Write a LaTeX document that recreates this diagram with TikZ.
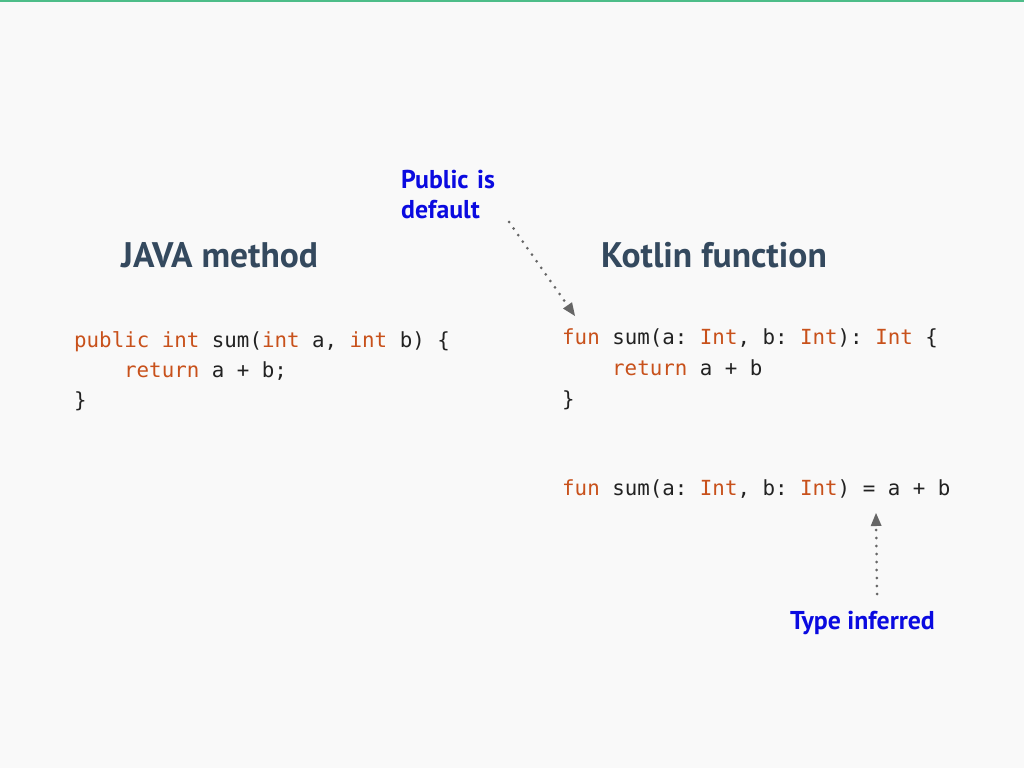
\documentclass[tikz,border=0pt]{standalone}
\usepackage{fontspec}
\setmainfont{PT Sans}
\setmonofont{DejaVu Sans Mono}
\usetikzlibrary{arrows.meta}
\definecolor{bgpage}{HTML}{F9F9F9}
\definecolor{topbar}{HTML}{4DBD89}
\definecolor{titleslate}{HTML}{34495E}
\definecolor{codeink}{HTML}{222222}
\definecolor{kwred}{HTML}{C8511B}
\definecolor{noteblue}{HTML}{0A0AE0}
\definecolor{hintgray}{HTML}{666666}
\newcommand{\kw}[1]{\textcolor{kwred}{#1}}% keyword colour

\begin{document}
\begin{tikzpicture}[x=1pt,y=-1pt,
	title/.style={anchor=base west, inner sep=0pt, text=titleslate,
		font=\fontsize{35.5}{40}\selectfont\bfseries},
	code/.style={anchor=base west, inner sep=0pt, text=codeink,
		font=\fontsize{20.8}{30}\selectfont\ttfamily},
	note/.style={anchor=base west, inner sep=0pt, text=noteblue,
		font=\fontsize{25.8}{30}\selectfont\bfseries},
	hint/.style={draw=hintgray, line width=3pt, line cap=round,
		dash pattern=on 0pt off 8pt,
		-{Triangle[length=13pt,width=11pt,line width=0pt]}}]
	\fill[bgpage] (0,0) rectangle (1024,768);
	\useasboundingbox (0,0) rectangle (1024,768);
	\fill[topbar] (0,0) rectangle (1024,2.5);
	% titles
	\node[title] (javaTitle) at (121,267){JAVA method};
	\node[title] (ktTitle) at (601,267){Kotlin function};
	% java
	\node[code] (javaA) at (74,347){\kw{public} \kw{int} sum(\kw{int} a, \kw{int} b) \{};
	\node[code] (javaB) at (124,377){\kw{return} a + b;};
	\node[code] (javaC) at (74,407){\}};
	% kotlin
	\node[code] (ktA) at (562,344){\kw{fun} sum(a: \kw{Int}, b: \kw{Int}): \kw{Int} \{};
	\node[code] (ktB) at (612,375){\kw{return} a + b};
	\node[code] (ktC) at (562,406){\}};
	\node[code] (ktShort) at (562,495){\kw{fun} sum(a: \kw{Int}, b: \kw{Int}) = a + b};
	% notes
	\node[note, align=left, text width=130pt] (noteDefault) at (401,188){Public is\\default};
	\node[note] (noteInfer) at (790,629){Type inferred};
	\coordinate (defaultTail) at (509,222);
	\coordinate (defaultHead) at (575,316);
	\coordinate (inferTail) at (877,594);
	\coordinate (inferHead) at (876,513);
	\draw[hint] (defaultTail) -- (defaultHead);
	\draw[hint] (inferTail) -- (inferHead);
\end{tikzpicture}
\end{document}
